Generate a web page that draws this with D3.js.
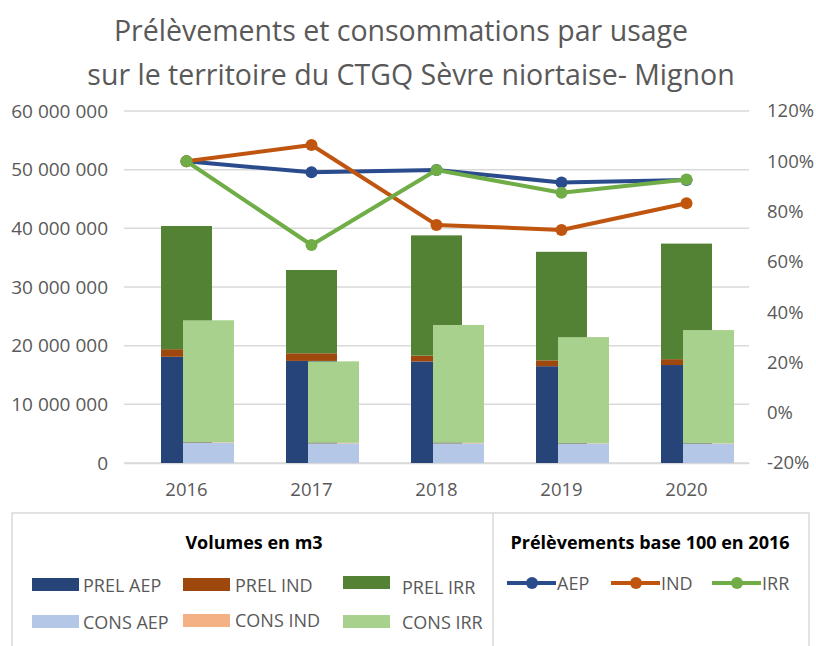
<!DOCTYPE html>
<html>
<head>
<meta charset="utf-8">
<script src="https://cdn.jsdelivr.net/npm/d3@7"></script>
<style>
  body { margin: 0; background: #fff; }
  svg { display: block; }
</style>
</head>
<body>
<div id="chart"></div>
<script>
// data, volumes in m3
var years = ["2016", "2017", "2018", "2019", "2020"];
var prelAEP = [18100000, 17400000, 17300000, 16500000, 16700000];
var prelIND = [1300000, 1300000, 1000000, 1000000, 1000000];
var prelIRR = [21000000, 14200000, 20500000, 18500000, 19700000];
var consAEP = [3450000, 3350000, 3350000, 3300000, 3300000];
var consIND = [80000, 80000, 80000, 60000, 60000];
var consIRR = [20800000, 13900000, 20100000, 18100000, 19300000];

// base 100 in 2016
var idxAEP = [1.00, 0.956, 0.965, 0.916, 0.926];
var idxIND = [1.00, 1.065, 0.747, 0.727, 0.833];
var idxIRR = [1.00, 0.667, 0.965, 0.875, 0.928];

var leftTicks = [0, 10000000, 20000000, 30000000, 40000000, 50000000, 60000000];
var rightTicks = [-0.2, 0, 0.2, 0.4, 0.6, 0.8, 1.0, 1.2];

var W = 816, H = 646;
var font = "'Open Sans', sans-serif";
var grey = "#595959";

var svg = d3.select("#chart").append("svg")
    .attr("width", W)
    .attr("height", H);

// title
var title = svg.append("g")
    .attr("font-family", font)
    .attr("fill", grey)
    .attr("font-size", 28.5)
    .attr("text-anchor", "middle");
title.append("text").attr("x", 401).attr("y", 41).text("Prélèvements et consommations par usage");
title.append("text").attr("x", 411).attr("y", 85).text("sur le territoire du CTGQ Sèvre niortaise- Mignon");

// scales
var xScale = d3.scaleBand()
    .domain(years)
    .range([124, 749]);

var yLeft = d3.scaleLinear()
    .domain([0, 60000000])
    .range([463, 111]);

var yRight = d3.scaleLinear()
    .domain([-0.2, 1.2])
    .range([463, 111]);

var fmtSpace = function(d) {
    return d3.format(",")(d).replace(/,/g, " ");
};

// gridlines
svg.append("g")
    .selectAll("line")
    .data(leftTicks)
    .enter().append("line")
    .attr("x1", 124)
    .attr("x2", 749)
    .attr("y1", function(d) { return yLeft(d); })
    .attr("y2", function(d) { return yLeft(d); })
    .attr("stroke", "#d9d9d9")
    .attr("stroke-width", 1.5);

// left axis
var leftAxis = svg.append("g")
    .attr("transform", "translate(118,0)")
    .call(d3.axisLeft(yLeft).tickValues(leftTicks).tickFormat(fmtSpace).tickSize(0).tickPadding(10));
leftAxis.select(".domain").remove();
leftAxis.selectAll("text")
    .attr("font-family", font)
    .attr("font-size", 19)
    .attr("fill", grey);

// right axis
var rightAxis = svg.append("g")
    .attr("transform", "translate(757,0)")
    .call(d3.axisRight(yRight).tickValues(rightTicks).tickFormat(d3.format(".0%")).tickSize(0).tickPadding(10));
rightAxis.select(".domain").remove();
rightAxis.selectAll("text")
    .attr("font-family", font)
    .attr("font-size", 18.5)
    .attr("fill", grey)
    .text(function(d) { return d3.format(".0%")(d).replace("−", "-"); });

// bottom axis
var bottomAxis = svg.append("g")
    .attr("transform", "translate(0,463)")
    .call(d3.axisBottom(xScale).tickSize(0).tickPadding(20));
bottomAxis.select(".domain")
    .attr("stroke", "#d9d9d9")
    .attr("stroke-width", 1.5);
bottomAxis.selectAll("text")
    .attr("font-family", font)
    .attr("font-size", 18.5)
    .attr("fill", grey);

// stacked bars
var prelRows = years.map(function(y, i) {
    return { year: y, AEP: prelAEP[i], IND: prelIND[i], IRR: prelIRR[i] };
});
var consRows = years.map(function(y, i) {
    return { year: y, AEP: consAEP[i], IND: consIND[i], IRR: consIRR[i] };
});

var stack = d3.stack().keys(["AEP", "IND", "IRR"]);
var prelColors = { AEP: "#264478", IND: "#9e480e", IRR: "#548235" };
var consColors = { AEP: "#b4c7e7", IND: "#f4b183", IRR: "#a9d18e" };

var barW = 51;

function drawStack(rows, colors, offset) {
    svg.append("g")
        .selectAll("g")
        .data(stack(rows))
        .enter().append("g")
        .attr("fill", function(d) { return colors[d.key]; })
        .selectAll("rect")
        .data(function(d) { return d; })
        .enter().append("rect")
        .attr("x", function(d) { return xScale(d.data.year) + xScale.bandwidth() / 2 + offset; })
        .attr("y", function(d) { return yLeft(d[1]); })
        .attr("width", barW)
        .attr("height", function(d) { return yLeft(d[0]) - yLeft(d[1]); });
}

drawStack(prelRows, prelColors, -25.5);
drawStack(consRows, consColors, -3.5);

// lines
var lineSeries = [
    { name: "AEP", values: idxAEP, color: "#2b4c8c" },
    { name: "IND", values: idxIND, color: "#c05510" },
    { name: "IRR", values: idxIRR, color: "#70ad47" }
];

var line = d3.line()
    .x(function(d, i) { return xScale(years[i]) + xScale.bandwidth() / 2; })
    .y(function(d) { return yRight(d); });

lineSeries.forEach(function(s) {
    var g = svg.append("g");
    g.append("path")
        .attr("d", line(s.values))
        .attr("fill", "none")
        .attr("stroke", s.color)
        .attr("stroke-width", 4)
        .attr("stroke-linejoin", "round");
    g.selectAll("circle")
        .data(s.values)
        .enter().append("circle")
        .attr("cx", function(d, i) { return xScale(years[i]) + xScale.bandwidth() / 2; })
        .attr("cy", function(d) { return yRight(d); })
        .attr("r", 6)
        .attr("fill", s.color);
});

// Legend
var legend = svg.append("g").attr("font-family", font);

legend.append("rect")
    .attr("x", 12)
    .attr("y", 513)
    .attr("width", 797)
    .attr("height", 140)
    .attr("fill", "none")
    .attr("stroke", "#d9d9d9")
    .attr("stroke-width", 1.5);

legend.append("line")
    .attr("x1", 493).attr("x2", 493)
    .attr("y1", 513).attr("y2", 646)
    .attr("stroke", "#d9d9d9")
    .attr("stroke-width", 1.5);

legend.append("text")
    .attr("x", 254)
    .attr("y", 549)
    .attr("text-anchor", "middle")
    .attr("font-size", 18)
    .attr("font-weight", "bold")
    .attr("fill", "#000")
    .text("Volumes en m3");

legend.append("text")
    .attr("x", 650)
    .attr("y", 549)
    .attr("text-anchor", "middle")
    .attr("font-size", 18)
    .attr("font-weight", "bold")
    .attr("fill", "#000")
    .text("Prélèvements base 100 en 2016");

var barLegend = [
    { label: "PREL AEP", color: prelColors.AEP, x: 32, y: 578, tx: 83, ty: 592 },
    { label: "PREL IND", color: prelColors.IND, x: 183, y: 578, tx: 235, ty: 592 },
    { label: "PREL IRR", color: prelColors.IRR, x: 343, y: 576, tx: 402, ty: 594 },
    { label: "CONS AEP", color: consColors.AEP, x: 32, y: 615, tx: 83, ty: 629 },
    { label: "CONS IND", color: consColors.IND, x: 183, y: 614, tx: 235, ty: 627 },
    { label: "CONS IRR", color: consColors.IRR, x: 343, y: 615, tx: 402, ty: 629 }
];

var bl = legend.selectAll("g.bl")
    .data(barLegend)
    .enter().append("g")
    .attr("class", "bl");
bl.append("rect")
    .attr("x", function(d) { return d.x; })
    .attr("y", function(d) { return d.y; })
    .attr("width", 47)
    .attr("height", 13)
    .attr("fill", function(d) { return d.color; });
bl.append("text")
    .attr("x", function(d) { return d.tx; })
    .attr("y", function(d) { return d.ty; })
    .attr("font-size", 18)
    .attr("fill", grey)
    .text(function(d) { return d.label; });

var lineLegendX = [507, 611, 712];
var ll = legend.selectAll("g.ll")
    .data(lineSeries)
    .enter().append("g")
    .attr("class", "ll")
    .attr("transform", function(d, i) { return "translate(" + lineLegendX[i] + ",583)"; });
ll.append("line")
    .attr("x1", 0).attr("x2", 49)
    .attr("stroke", function(d) { return d.color; })
    .attr("stroke-width", 4);
ll.append("circle")
    .attr("cx", 25)
    .attr("r", 6)
    .attr("fill", function(d) { return d.color; });
ll.append("text")
    .attr("x", 50)
    .attr("y", 6.5)
    .attr("font-size", 18)
    .attr("fill", grey)
    .text(function(d) { return d.name; });
</script>
</body>
</html>
